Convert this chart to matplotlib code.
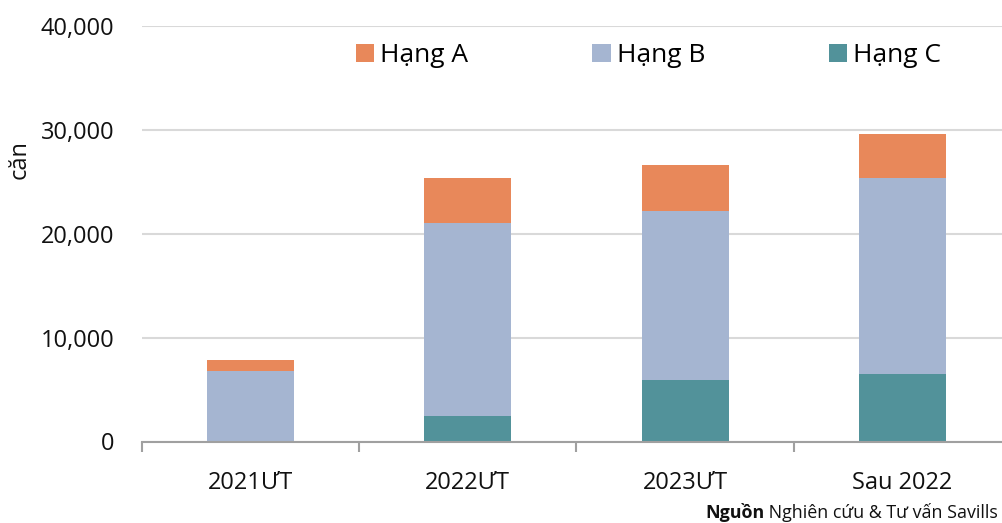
import matplotlib
matplotlib.use("Agg")
import matplotlib.pyplot as plt
import numpy as np
from matplotlib.ticker import FuncFormatter

plt.rcParams['font.family'] = ['Open Sans', 'DejaVu Sans']

categories = ["2021ƯT", "2022ƯT", "2023ƯT", "Sau 2022"]
hang_c = [0, 2480, 5940, 6460]
hang_b = [6780, 18600, 16220, 18880]
hang_a = [1060, 4260, 4430, 4230]
series_names = ["Hạng A", "Hạng B", "Hạng C"]
colors = {"Hạng A": "#E8885A", "Hạng B": "#A5B5D1", "Hạng C": "#52929A"}

W, H = 1003, 523
fig = plt.figure(figsize=(W / 100, H / 100), dpi=100)
ax = fig.add_axes([142 / W, (H - 441.5) / H, 869 / W, 415.5 / H])

x = np.arange(len(categories))
bw = 0.40
c = np.array(hang_c)
b = np.array(hang_b)
a = np.array(hang_a)
bc = ax.bar(x, c, bw, color=colors["Hạng C"], label="Hạng C", zorder=3)
bb = ax.bar(x, b, bw, bottom=c, color=colors["Hạng B"], label="Hạng B", zorder=3)
ba = ax.bar(x, a, bw, bottom=c + b, color=colors["Hạng A"], label="Hạng A", zorder=3)

ax.set_xlim(-0.5, len(categories) - 0.5)
ax.set_ylim(0, 40000)
ax.set_yticks([0, 10000, 20000, 30000, 40000])
ax.yaxis.set_major_formatter(FuncFormatter(lambda v, p: f"{int(v):,}"))
ax.grid(axis='y', color='#D9D9D9', linewidth=1.5, zorder=0)
for s in ['top', 'right', 'left']:
    ax.spines[s].set_visible(False)
ax.spines['bottom'].set_color('#A0A0A0')
ax.spines['bottom'].set_linewidth(1.5)
ax.spines['bottom'].set_zorder(4)

ax.set_xticks(x)
ax.set_xticklabels(categories)
ax.set_xticks(np.arange(-0.5, len(categories) + 0.5, 1), minor=True)
ax.tick_params(axis='x', which='major', length=0, pad=21, labelsize=17, labelcolor='#111111')
ax.tick_params(axis='x', which='minor', length=7, width=1.5, color='#A0A0A0')
ax.tick_params(axis='y', length=0, pad=20, labelsize=17, labelcolor='#111111')

fig.text(20 / W, 1 - 160 / H, "căn", rotation=90, ha='center', va='center', fontsize=17, color='#111111')

handles = [ba, bb, bc]
leg = fig.legend(handles, series_names, ncol=3, loc='upper left',
                 bbox_to_anchor=(356 / W, 1 - 43 / H), frameon=False, fontsize=19,
                 handlelength=0.7, handleheight=0.7, handletextpad=0.22,
                 columnspacing=4.7, borderpad=0, borderaxespad=0)

t2 = fig.text(998 / W, 1 - 513 / H, " Nghiên cứu & Tư vấn Savills", ha='right', va='center',
              fontsize=12.9, color='#111111')
fig.canvas.draw()
bbox = t2.get_window_extent()
fig.text(bbox.x0 / W, 1 - 513 / H, "Nguồn", ha='right', va='center', fontsize=12.9,
         fontweight='bold', color='#111111')

fig.savefig("out.png", dpi=100)
